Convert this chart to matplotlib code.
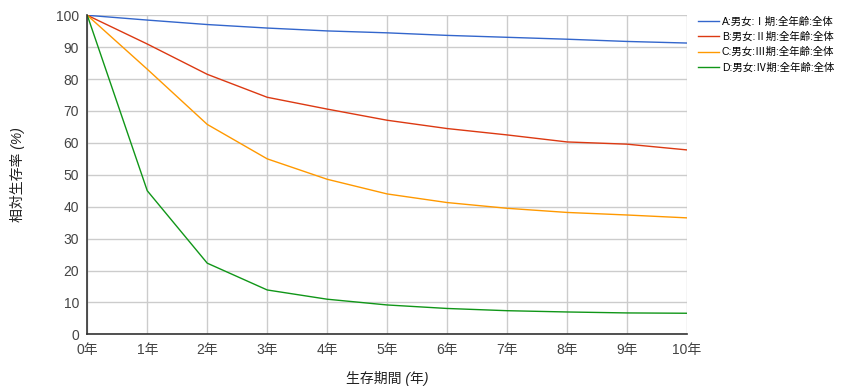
import matplotlib.pyplot as plt

plt.rcParams['font.family'] = ['Liberation Sans', 'Noto Sans CJK JP', 'DejaVu Sans']

# Data
years = [0, 1, 2, 3, 4, 5, 6, 7, 8, 9, 10]
year_labels = [f"{y}年" for y in years]
stage1 = [100, 98.5, 97.1, 96.0, 95.1, 94.5, 93.7, 93.1, 92.5, 91.8, 91.3]
stage2 = [100, 91.0, 81.5, 74.3, 70.6, 67.1, 64.5, 62.5, 60.3, 59.6, 57.8]
stage3 = [100, 83.1, 65.8, 55.0, 48.6, 44.0, 41.3, 39.5, 38.2, 37.4, 36.5]
stage4 = [100, 45.0, 22.3, 13.9, 11.0, 9.2, 8.1, 7.4, 7.0, 6.7, 6.6]
names = ["A:男女:Ⅰ期:全年齢:全体", "B:男女:Ⅱ期:全年齢:全体",
         "C:男女:Ⅲ期:全年齢:全体", "D:男女:Ⅳ期:全年齢:全体"]
colors = ["#3366cc", "#dc3912", "#ff9900", "#109618"]

fig = plt.figure(figsize=(8.6, 3.89), dpi=100)
ax = fig.add_axes([0.1015, 0.1406, 0.6973, 0.8201])

for vals, name, c in zip([stage1, stage2, stage3, stage4], names, colors):
    ax.plot(years, vals, color=c, lw=1.0, label=name)

ax.set_xlim(0, 10)
ax.set_ylim(0, 100)
ax.set_xticks(years)
ax.set_xticklabels(year_labels)
ax.set_yticks(range(0, 101, 10))
ax.grid(True, color="#cccccc", lw=1.0)
ax.set_axisbelow(True)
ax.tick_params(length=0, labelsize=10, colors="#444444", pad=6)
for s in ["top", "right"]:
    ax.spines[s].set_visible(False)
for s in ["left", "bottom"]:
    ax.spines[s].set_color("#333333")
    ax.spines[s].set_linewidth(1.2)

ax.set_ylabel("相対生存率 (%)", fontsize=10, style="italic", color="#222222", labelpad=22)
ax.set_xlabel("生存期間 (年)", fontsize=10, style="italic", color="#222222", labelpad=10)

ax.legend(loc="upper left", bbox_to_anchor=(1.008, 1.017), frameon=False,
          fontsize=7.5, handlelength=2.0, handletextpad=0.3, labelspacing=0.5,
          borderpad=0.1)

fig.savefig("out.png", dpi=100)
